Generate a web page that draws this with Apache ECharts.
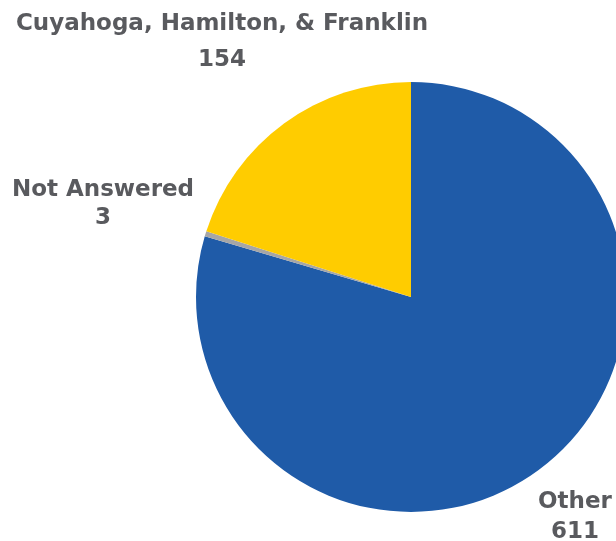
<!DOCTYPE html>
<html><head><meta charset="utf-8">
<script src="https://cdn.jsdelivr.net/npm/echarts@6/dist/echarts.min.js"></script>
<style>html,body{margin:0;padding:0;background:#fff}#c{width:616px;height:541px}</style>
</head><body><div id="c"></div>
<script>
const categories = ['Other', 'Not Answered', 'Cuyahoga, Hamilton, & Franklin'];
const values = [611, 3, 154];
const colors = ['#1F5BA8', '#A6A6A6', '#FFCC00'];
const labelSpots = [[575, 517], [103, 204], [222, 42]];
const labelLineHeights = [30, 28, 36];

const chart = echarts.init(document.getElementById('c'));
chart.setOption({
  animation: false,
  series: [{
    type: 'pie',
    center: [411, 297],
    radius: 215,
    startAngle: 90,
    clockwise: true,
    silent: true,
    avoidLabelOverlap: false,
    data: categories.map((n, i) => ({
      name: n, value: values[i],
      itemStyle: { color: colors[i] },
      label: { lineHeight: labelLineHeights[i] }
    })),
    label: {
      show: true,
      position: 'outside',
      overflow: 'none',
      width: 600,
      formatter: '{b}\n{c}',
      color: '#595A5E',
      fontFamily: 'DejaVu Sans',
      fontWeight: 'bold',
      fontSize: 23,
      align: 'center'
    },
    labelLine: { show: false },
    labelLayout: function (p) {
      const s = labelSpots[p.dataIndex];
      return { x: s[0], y: s[1], align: 'center', verticalAlign: 'middle', hideOverlap: false };
    }
  }]
});
</script></body></html>
